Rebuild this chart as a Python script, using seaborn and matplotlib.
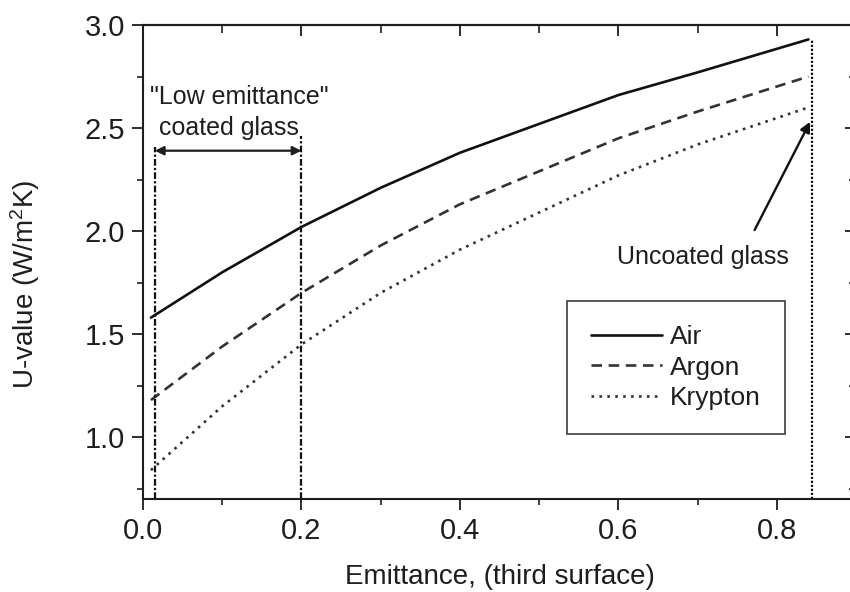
import matplotlib
matplotlib.use("Agg")
import matplotlib.pyplot as plt
import seaborn as sns
import pandas as pd
from matplotlib.ticker import MultipleLocator, NullFormatter

# ---- data ----
emittance = [0.01, 0.1, 0.2, 0.3, 0.4, 0.5, 0.6, 0.7, 0.84]
u_air = [1.58, 1.80, 2.02, 2.21, 2.38, 2.52, 2.66, 2.77, 2.93]
u_argon = [1.18, 1.44, 1.70, 1.93, 2.13, 2.29, 2.45, 2.58, 2.75]
u_krypton = [0.84, 1.15, 1.45, 1.70, 1.91, 2.09, 2.27, 2.42, 2.60]
gases = ["Air", "Argon", "Krypton"]

low_e_left = 0.015
low_e_right = 0.2
uncoated = 0.844
x_ticks = [0.0, 0.2, 0.4, 0.6, 0.8]
y_ticks = [1.0, 1.5, 2.0, 2.5, 3.0]

df = pd.DataFrame({
    "Emittance": emittance * 3,
    "U": u_air + u_argon + u_krypton,
    "Gas": [g for g in gases for _ in emittance],
})

sns.set_theme(style="ticks")
plt.rcParams["font.family"] = ["Liberation Sans", "DejaVu Sans"]
plt.rcParams["mathtext.fontset"] = "custom"
plt.rcParams["mathtext.rm"] = "Liberation Sans"
plt.rcParams["mathtext.it"] = "Liberation Sans"

INK = "#1e1e1e"

fig = plt.figure(figsize=(8.5, 5.92), dpi=100)
ax = fig.add_axes([143 / 850, 93 / 592, 713 / 850, 474 / 592])

sns.lineplot(
    data=df, x="Emittance", y="U", hue="Gas", style="Gas",
    palette={"Air": "#111111", "Argon": "#333333", "Krypton": "#333333"},
    dashes={"Air": "", "Argon": (4, 2.5), "Krypton": (1, 2)},
    linewidth=1.9, ax=ax, legend=True,
)

ax.set_xlim(0.0, 0.9)
ax.set_ylim(0.7, 3.0)
ax.xaxis.set_minor_locator(MultipleLocator(0.1))
ax.yaxis.set_minor_locator(MultipleLocator(0.25))
ax.set_xticks(x_ticks)
ax.set_xticklabels([f"{v:.1f}" for v in x_ticks])
ax.set_yticks(y_ticks)
ax.set_yticklabels([f"{v:.1f}" for v in y_ticks])

for s in ax.spines.values():
    s.set_linewidth(1.5)
    s.set_color(INK)
ax.tick_params(axis="both", which="major", direction="out", length=8, width=1.3,
               labelsize=21, colors=INK, pad=5)
ax.tick_params(axis="both", which="minor", direction="out", length=4, width=1.2,
               colors=INK)

# mirrored ticks on top / right pointing inward
top = ax.secondary_xaxis("top")
top.set_xticks(x_ticks)
top.xaxis.set_minor_locator(MultipleLocator(0.1))
top.xaxis.set_major_formatter(NullFormatter())
top.tick_params(which="major", direction="in", length=8, width=1.3, colors=INK)
top.tick_params(which="minor", direction="in", length=6, width=1.2, colors=INK)
top.spines["top"].set_linewidth(1.5)
right = ax.secondary_yaxis("right")
right.set_yticks(y_ticks)
right.yaxis.set_minor_locator(MultipleLocator(0.25))
right.yaxis.set_major_formatter(NullFormatter())
right.tick_params(which="major", direction="in", length=8, width=1.3, colors=INK)
right.tick_params(which="minor", direction="in", length=5, width=1.2, colors=INK)
right.spines["right"].set_linewidth(1.5)

ax.set_xlabel("Emittance, (third surface)", fontsize=20, color=INK, labelpad=14)
ax.set_ylabel("U-value (W/m$^2$K)", fontsize=20, color=INK)
ax.yaxis.set_label_coords(-0.141, 0.454)

# vertical marker lines
ax.plot([low_e_left, low_e_left], [0.7, 2.41], color="#111111", lw=1.6, ls=(0, (3, 1, 1, 1)))
ax.plot([low_e_right, low_e_right], [0.7, 2.46], color="#111111", lw=1.6, ls=(0, (3, 1, 1, 1)))
ax.plot([uncoated, uncoated], [0.7, 2.93], color="#111111", lw=1.6, ls=(0, (1, 0.8)))

# double-headed arrow for the low-e range
ax.annotate("", xy=(low_e_left, 2.39), xytext=(low_e_right, 2.39),
            arrowprops=dict(arrowstyle="<|-|>", color=INK, lw=1.6,
                            mutation_scale=13, shrinkA=0, shrinkB=0))
ax.text(0.121, 2.65, '"Low emittance"', fontsize=18, ha="center", va="center",
        color=INK)
ax.text(0.108, 2.50, "coated glass", fontsize=18, ha="center", va="center",
        color=INK)

ax.annotate("", xy=(0.842, 2.53), xytext=(0.772, 2.005),
            arrowprops=dict(arrowstyle="-|>", color="#111111", lw=1.7,
                            mutation_scale=15, shrinkA=0, shrinkB=0))
ax.text(0.707, 1.875, "Uncoated glass", fontsize=18, ha="center", va="center",
        color=INK)

leg = ax.legend(title=None, loc="lower left", bbox_to_anchor=(0.595, 0.137),
                fontsize=19, frameon=True, fancybox=False, edgecolor=INK,
                handlelength=2.7, handletextpad=0.3, labelspacing=0.25,
                borderpad=0.9, borderaxespad=0)
leg.get_frame().set_linewidth(1.3)
for t in leg.get_texts():
    t.set_color(INK)

fig.savefig("out.png", dpi=100)
